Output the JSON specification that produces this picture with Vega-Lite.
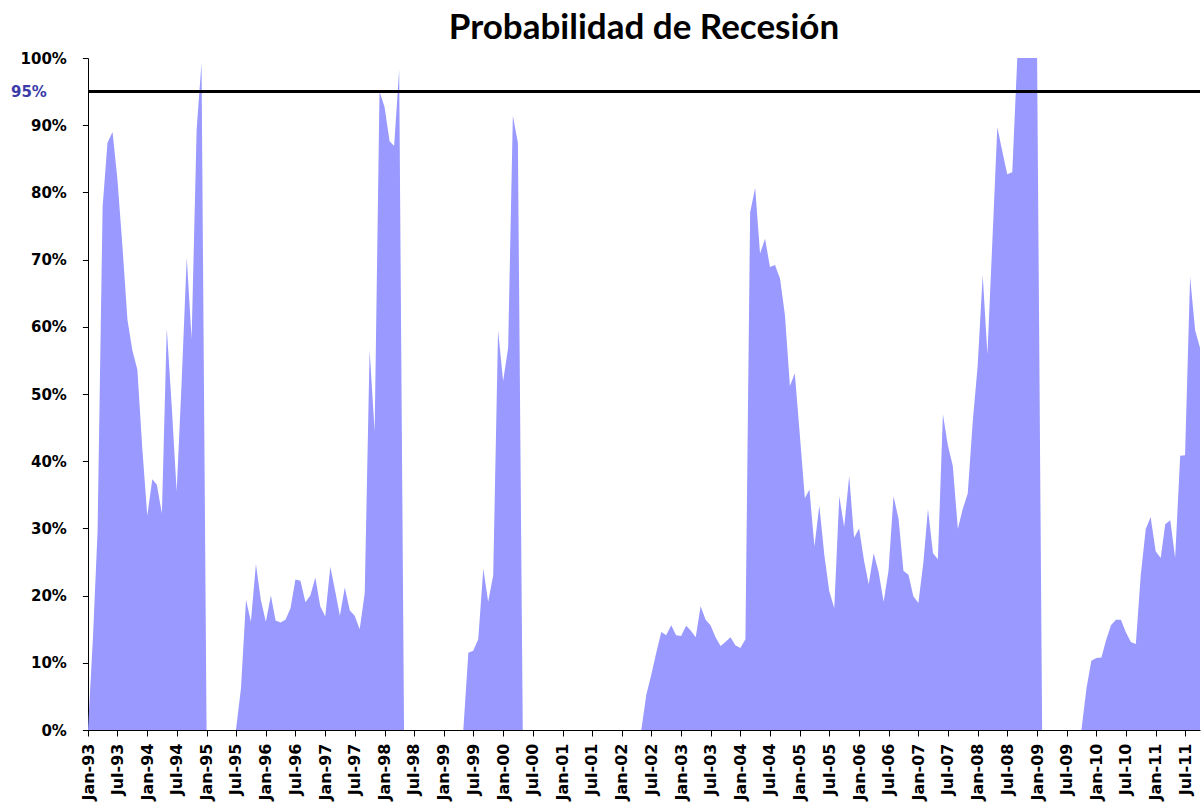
{
 "$schema": "https://vega.github.io/schema/vega-lite/v6.json",
 "width": 1112,
 "height": 672,
 "autosize": {"type": "none"},
 "padding": {"left": 88, "top": 58, "right": 4, "bottom": 74},
 "background": "white",
 "title": {"text": "Probabilidad de Recesión", "font": "Lato", "fontSize": 35, "fontWeight": "bold", "color": "black", "anchor": "middle", "offset": 5},
 "config": {"view": {"stroke": null}},
 "data": {"values": [
  {"d":"1993-01-01","p":0},{"d":"1993-02-01","p":0.14},{"d":"1993-03-01","p":0.296},{"d":"1993-04-01","p":0.779},{"d":"1993-05-01","p":0.874},{"d":"1993-06-01","p":0.89},{"d":"1993-07-01","p":0.82},{"d":"1993-08-01","p":0.72},{"d":"1993-09-01","p":0.61},{"d":"1993-10-01","p":0.565},{"d":"1993-11-01","p":0.536},{"d":"1993-12-01","p":0.42},
  {"d":"1994-01-01","p":0.319},{"d":"1994-02-01","p":0.373},{"d":"1994-03-01","p":0.365},{"d":"1994-04-01","p":0.322},{"d":"1994-05-01","p":0.598},{"d":"1994-06-01","p":0.48},{"d":"1994-07-01","p":0.355},{"d":"1994-08-01","p":0.52},{"d":"1994-09-01","p":0.703},{"d":"1994-10-01","p":0.582},{"d":"1994-11-01","p":0.894},{"d":"1994-12-01","p":0.993},
  {"d":"1995-01-01","p":0},{"d":"1995-02-01","p":0},{"d":"1995-03-01","p":0},{"d":"1995-04-01","p":0},{"d":"1995-05-01","p":0},{"d":"1995-06-01","p":0},{"d":"1995-07-01","p":0},{"d":"1995-08-01","p":0.062},{"d":"1995-09-01","p":0.194},{"d":"1995-10-01","p":0.161},{"d":"1995-11-01","p":0.247},{"d":"1995-12-01","p":0.194},
  {"d":"1996-01-01","p":0.161},{"d":"1996-02-01","p":0.2},{"d":"1996-03-01","p":0.163},{"d":"1996-04-01","p":0.16},{"d":"1996-05-01","p":0.164},{"d":"1996-06-01","p":0.181},{"d":"1996-07-01","p":0.224},{"d":"1996-08-01","p":0.222},{"d":"1996-09-01","p":0.19},{"d":"1996-10-01","p":0.2},{"d":"1996-11-01","p":0.227},{"d":"1996-12-01","p":0.184},
  {"d":"1997-01-01","p":0.169},{"d":"1997-02-01","p":0.243},{"d":"1997-03-01","p":0.209},{"d":"1997-04-01","p":0.17},{"d":"1997-05-01","p":0.212},{"d":"1997-06-01","p":0.178},{"d":"1997-07-01","p":0.17},{"d":"1997-08-01","p":0.15},{"d":"1997-09-01","p":0.204},{"d":"1997-10-01","p":0.565},{"d":"1997-11-01","p":0.444},{"d":"1997-12-01","p":0.95},
  {"d":"1998-01-01","p":0.927},{"d":"1998-02-01","p":0.876},{"d":"1998-03-01","p":0.869},{"d":"1998-04-01","p":0.983},{"d":"1998-05-01","p":0},{"d":"1998-06-01","p":0},{"d":"1998-07-01","p":0},{"d":"1998-08-01","p":0},{"d":"1998-09-01","p":0},{"d":"1998-10-01","p":0},{"d":"1998-11-01","p":0},{"d":"1998-12-01","p":0},
  {"d":"1999-01-01","p":0},{"d":"1999-02-01","p":0},{"d":"1999-03-01","p":0},{"d":"1999-04-01","p":0},{"d":"1999-05-01","p":0},{"d":"1999-06-01","p":0.115},{"d":"1999-07-01","p":0.118},{"d":"1999-08-01","p":0.135},{"d":"1999-09-01","p":0.24},{"d":"1999-10-01","p":0.191},{"d":"1999-11-01","p":0.23},{"d":"1999-12-01","p":0.595},
  {"d":"2000-01-01","p":0.519},{"d":"2000-02-01","p":0.569},{"d":"2000-03-01","p":0.914},{"d":"2000-04-01","p":0.874},{"d":"2000-05-01","p":0},{"d":"2000-06-01","p":0},{"d":"2000-07-01","p":0},{"d":"2000-08-01","p":0},{"d":"2000-09-01","p":0},{"d":"2000-10-01","p":0},{"d":"2000-11-01","p":0},{"d":"2000-12-01","p":0},
  {"d":"2001-01-01","p":0},{"d":"2001-02-01","p":0},{"d":"2001-03-01","p":0},{"d":"2001-04-01","p":0},{"d":"2001-05-01","p":0},{"d":"2001-06-01","p":0},{"d":"2001-07-01","p":0},{"d":"2001-08-01","p":0},{"d":"2001-09-01","p":0},{"d":"2001-10-01","p":0},{"d":"2001-11-01","p":0},{"d":"2001-12-01","p":0},
  {"d":"2002-01-01","p":0},{"d":"2002-02-01","p":0},{"d":"2002-03-01","p":0},{"d":"2002-04-01","p":0},{"d":"2002-05-01","p":0},{"d":"2002-06-01","p":0.053},{"d":"2002-07-01","p":0.082},{"d":"2002-08-01","p":0.115},{"d":"2002-09-01","p":0.146},{"d":"2002-10-01","p":0.141},{"d":"2002-11-01","p":0.156},{"d":"2002-12-01","p":0.141},
  {"d":"2003-01-01","p":0.14},{"d":"2003-02-01","p":0.155},{"d":"2003-03-01","p":0.148},{"d":"2003-04-01","p":0.138},{"d":"2003-05-01","p":0.184},{"d":"2003-06-01","p":0.164},{"d":"2003-07-01","p":0.156},{"d":"2003-08-01","p":0.138},{"d":"2003-09-01","p":0.125},{"d":"2003-10-01","p":0.131},{"d":"2003-11-01","p":0.138},{"d":"2003-12-01","p":0.126},
  {"d":"2004-01-01","p":0.122},{"d":"2004-02-01","p":0.135},{"d":"2004-03-01","p":0.77},{"d":"2004-04-01","p":0.807},{"d":"2004-05-01","p":0.709},{"d":"2004-06-01","p":0.731},{"d":"2004-07-01","p":0.689},{"d":"2004-08-01","p":0.692},{"d":"2004-09-01","p":0.672},{"d":"2004-10-01","p":0.618},{"d":"2004-11-01","p":0.512},{"d":"2004-12-01","p":0.531},
  {"d":"2005-01-01","p":0.439},{"d":"2005-02-01","p":0.345},{"d":"2005-03-01","p":0.358},{"d":"2005-04-01","p":0.273},{"d":"2005-05-01","p":0.334},{"d":"2005-06-01","p":0.26},{"d":"2005-07-01","p":0.207},{"d":"2005-08-01","p":0.181},{"d":"2005-09-01","p":0.348},{"d":"2005-10-01","p":0.302},{"d":"2005-11-01","p":0.378},{"d":"2005-12-01","p":0.286},
  {"d":"2006-01-01","p":0.3},{"d":"2006-02-01","p":0.251},{"d":"2006-03-01","p":0.217},{"d":"2006-04-01","p":0.263},{"d":"2006-05-01","p":0.235},{"d":"2006-06-01","p":0.191},{"d":"2006-07-01","p":0.237},{"d":"2006-08-01","p":0.348},{"d":"2006-09-01","p":0.314},{"d":"2006-10-01","p":0.237},{"d":"2006-11-01","p":0.231},{"d":"2006-12-01","p":0.199},
  {"d":"2007-01-01","p":0.189},{"d":"2007-02-01","p":0.25},{"d":"2007-03-01","p":0.329},{"d":"2007-04-01","p":0.263},{"d":"2007-05-01","p":0.254},{"d":"2007-06-01","p":0.47},{"d":"2007-07-01","p":0.424},{"d":"2007-08-01","p":0.393},{"d":"2007-09-01","p":0.299},{"d":"2007-10-01","p":0.329},{"d":"2007-11-01","p":0.352},{"d":"2007-12-01","p":0.457},
  {"d":"2008-01-01","p":0.542},{"d":"2008-02-01","p":0.677},{"d":"2008-03-01","p":0.559},{"d":"2008-04-01","p":0.73},{"d":"2008-05-01","p":0.897},{"d":"2008-06-01","p":0.861},{"d":"2008-07-01","p":0.827},{"d":"2008-08-01","p":0.83},{"d":"2008-09-01","p":1},{"d":"2008-10-01","p":1},{"d":"2008-11-01","p":1},{"d":"2008-12-01","p":1},
  {"d":"2009-01-01","p":1},{"d":"2009-02-01","p":0},{"d":"2009-03-01","p":0},{"d":"2009-04-01","p":0},{"d":"2009-05-01","p":0},{"d":"2009-06-01","p":0},{"d":"2009-07-01","p":0},{"d":"2009-08-01","p":0},{"d":"2009-09-01","p":0},{"d":"2009-10-01","p":0},{"d":"2009-11-01","p":0.062},{"d":"2009-12-01","p":0.103},
  {"d":"2010-01-01","p":0.107},{"d":"2010-02-01","p":0.108},{"d":"2010-03-01","p":0.133},{"d":"2010-04-01","p":0.156},{"d":"2010-05-01","p":0.164},{"d":"2010-06-01","p":0.164},{"d":"2010-07-01","p":0.146},{"d":"2010-08-01","p":0.131},{"d":"2010-09-01","p":0.128},{"d":"2010-10-01","p":0.23},{"d":"2010-11-01","p":0.299},{"d":"2010-12-01","p":0.317},
  {"d":"2011-01-01","p":0.266},{"d":"2011-02-01","p":0.256},{"d":"2011-03-01","p":0.306},{"d":"2011-04-01","p":0.312},{"d":"2011-05-01","p":0.256},{"d":"2011-06-01","p":0.408},{"d":"2011-07-01","p":0.409},{"d":"2011-08-01","p":0.674},{"d":"2011-09-01","p":0.595},{"d":"2011-10-01","p":0.569}
 ]},
 "layer": [
  {
   "mark": {"type": "area", "color": "#9999ff", "interpolate": "linear"},
   "encoding": {
    "x": {"field": "d", "type": "temporal",
     "scale": {"type": "utc", "domain": [{"year": 1993, "month": 1, "date": 1, "utc": true}, {"year": 2011, "month": 10, "date": 1, "utc": true}]},
     "axis": {"title": null, "grid": false, "format": "%b-%y", "tickCount": {"interval": "month", "step": 6}, "labelAngle": -90, "labelFont": "DejaVu Sans", "labelFontSize": 16, "labelFontWeight": "bold", "labelColor": "black", "tickColor": "black", "domainColor": "black", "tickSize": 6, "labelPadding": 7, "labelOverlap": false, "labelBound": false, "labelFlush": false}},
    "y": {"field": "p", "type": "quantitative",
     "scale": {"domain": [0, 1]},
     "axis": {"title": null, "grid": false, "values": [0, 0.1, 0.2, 0.3, 0.4, 0.5, 0.6, 0.7, 0.8, 0.9, 1, 0.95], "format": ".0%", "labelFont": "DejaVu Sans", "labelFontSize": 15, "labelFontWeight": "bold",
      "labelColor": {"condition": {"test": "abs(datum.value-0.95)<0.001", "value": "#3c3ca8"}, "value": "black"},
      "labelPadding": {"condition": {"test": "abs(datum.value-0.95)<0.001", "value": 36}, "value": 16},
      "tickOpacity": {"condition": {"test": "abs(datum.value-0.95)<0.001", "value": 0}, "value": 1},
      "tickSize": 5.6, "tickColor": "black", "domainColor": "black", "labelOverlap": false, "labelFlush": false}}
   }
  },
  {
   "mark": {"type": "rule", "color": "black", "strokeWidth": 2.5},
   "encoding": {"y": {"datum": 0.95}}
  }
 ]
}
